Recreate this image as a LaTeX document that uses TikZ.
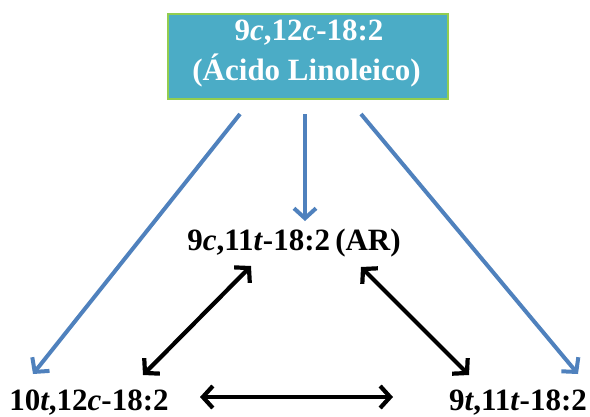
\documentclass[tikz,border=0pt]{standalone}
\usepackage{fontspec}
\setmainfont{Liberation Serif}
\usetikzlibrary{arrows.meta}
\definecolor{boxfill}{HTML}{4BACC6}
\definecolor{boxline}{HTML}{92CD50}
\definecolor{arrblue}{HTML}{4F81BD}
\tikzset{
  lbl/.style={inner sep=0pt, anchor=base, font=\fontsize{31}{36}\selectfont\bfseries},
  topbox/.style={draw=boxline, fill=boxfill, line width=2.5pt, minimum width=280pt, minimum height=85pt, inner sep=0pt},
  bluearr/.style={draw=arrblue, line width=4pt, -{Straight Barb[length=10pt,width=22pt]}},
  blackarr/.style={draw=black, line width=4.2pt, {Straight Barb[length=10pt,width=22pt]}-{Straight Barb[length=10pt,width=22pt]}}
}
\begin{document}
\begin{tikzpicture}[x=1pt,y=-1pt]
\useasboundingbox (0,0) rectangle (590,416);
\node[topbox] (top) at (308,56.5) {};
\node[lbl, text=white] (t1) at (309,40) {9\textit{c},12\textit{c}-18:2};
\node[lbl, text=white] (t2) at (306.5,80) {(Ácido Linoleico)};
\node[lbl] (ar) at (294,250) {9\textit{c},11\textit{t}-18:2\,(AR)};
\node[lbl] (bl) at (89,410) {10\textit{t},12\textit{c}-18:2};
\node[lbl] (br) at (518,410) {9\textit{t},11\textit{t}-18:2};
% blue arrow ends
\coordinate (s1) at (240,114);
\coordinate (s2) at (305,114);
\coordinate (s3) at (361,114);
\coordinate (e1) at (33,374);
\coordinate (e2) at (305,221);
\coordinate (e3) at (578,374);
\draw[bluearr] (s1) -- (e1);
\draw[bluearr] (s2) -- (e2);
\draw[bluearr] (s3) -- (e3);
% black arrow ends
\coordinate (a1) at (251,266);
\coordinate (a2) at (143,375);
\coordinate (b1) at (361,267);
\coordinate (b2) at (469,375);
\coordinate (c1) at (200,397);
\coordinate (c2) at (393,397);
\draw[blackarr] (a2) -- (a1);
\draw[blackarr] (b1) -- (b2);
\draw[blackarr] (c1) -- (c2);
\end{tikzpicture}
\end{document}
